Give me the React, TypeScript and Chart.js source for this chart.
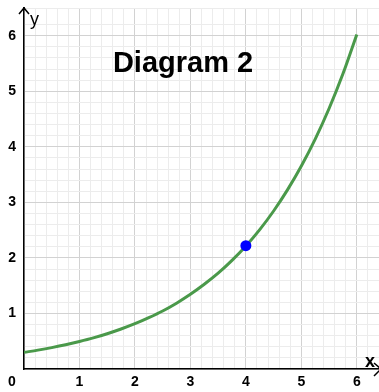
import React, { useEffect, useRef } from "react";
import { Chart, registerables } from "chart.js";

Chart.register(...registerables);

// Curve samples
const xValues = [0, 0.25, 0.5, 0.75, 1, 1.25, 1.5, 1.75, 2, 2.25, 2.5, 2.75, 3, 3.25, 3.5, 3.75, 4, 4.25, 4.5, 4.75, 5, 5.25, 5.5, 5.75, 6];
const yValues = [0.3, 0.34, 0.385, 0.436, 0.495, 0.56, 0.635, 0.72, 0.815, 0.925, 1.045, 1.185, 1.345, 1.525, 1.725, 1.955, 2.215, 2.51, 2.845, 3.225, 3.655, 4.14, 4.69, 5.315, 6.025];

// Highlighted point
const markX = [4];
const markY = [2.22];

const titleText = "Diagram 2";
const xAxisName = "x";
const yAxisName = "y";
const originLabel = "0";

const isInt = (v: number) => Math.abs(v - Math.round(v)) < 1e-6;

const overlay = {
  id: "overlay",
  afterDraw(chart: any) {
    const ctx = chart.ctx;
    const area = chart.chartArea;
    ctx.save();
    // title
    ctx.fillStyle = "#000";
    ctx.font = 'bold 29px "Liberation Sans", Arial, sans-serif';
    ctx.textAlign = "center";
    ctx.textBaseline = "alphabetic";
    ctx.fillText(titleText, 183, 72);

    // y arrow
    ctx.strokeStyle = "#000";
    ctx.lineWidth = 1.5;
    ctx.beginPath();
    ctx.moveTo(area.left, area.top + 2);
    ctx.lineTo(area.left, 7);
    ctx.stroke();
    ctx.beginPath();
    ctx.moveTo(area.left - 5, 14);
    ctx.lineTo(area.left, 8);
    ctx.lineTo(area.left + 5, 14);
    ctx.stroke();

    // x arrow
    ctx.beginPath();
    ctx.moveTo(374, area.bottom - 6);
    ctx.lineTo(381, area.bottom);
    ctx.lineTo(374, area.bottom + 7);
    ctx.stroke();

    // axis names
    ctx.font = '18px "Liberation Sans", Arial, sans-serif';
    ctx.textAlign = "left";
    ctx.fillText(yAxisName, 30, 25);
    ctx.font = 'bold 18px "Liberation Sans", Arial, sans-serif';
    ctx.fillText(xAxisName, 365, 367);

    // origin label
    ctx.font = 'bold 14px "Liberation Sans", Arial, sans-serif';
    ctx.textAlign = "center";
    ctx.textBaseline = "middle";
    ctx.fillText(originLabel, 12, 382);
    ctx.restore();
  },
};

export default function App() {
  const ref = useRef<HTMLCanvasElement>(null);
  useEffect(() => {
    if (!ref.current) return;
    const tickFont = { family: '"Liberation Sans", Arial, sans-serif', size: 14, weight: "bold" as const };
    const gridColor = (c: any) => (isInt(c.tick.value) ? "#d2d2d2" : "#ececec");
    const chart = new Chart(ref.current, {
      type: "scatter",
      data: {
        datasets: [
          {
            data: markX.map((x, i) => ({ x, y: markY[i] })),
            showLine: false,
            pointRadius: 5.5,
            pointBackgroundColor: "#0000ff",
            pointBorderWidth: 0,
            pointBorderColor: "#0000ff",
          },
          {
            data: xValues.map((x, i) => ({ x, y: yValues[i] })),
            showLine: true,
            borderColor: "#4a994a",
            borderWidth: 3,
            pointRadius: 0,
            cubicInterpolationMode: "monotone",
            fill: false,
          },
        ],
      },
      options: {
        animation: false,
        responsive: true,
        maintainAspectRatio: false,
        layout: { autoPadding: false, padding: { top: 8, right: 0, left: 0, bottom: 0 } },
        plugins: { legend: { display: false }, tooltip: { enabled: false }, title: { display: false } },
        scales: {
          x: {
            type: "linear",
            min: 0,
            max: 6.4,
            afterFit: (s: any) => {
              s.height = 23;
              s.paddingLeft = 0;
              s.paddingRight = 0;
            },
            ticks: {
              stepSize: 0.2,
              autoSkip: false,
              maxRotation: 0,
              padding: 0,
              color: "#000",
              font: { ...tickFont, lineHeight: "27px" },
              callback: (v: any) => (isInt(v) && Math.round(v) !== 0 ? String(Math.round(v)) : ""),
            },
            grid: { color: gridColor, drawTicks: false, lineWidth: 1 },
            border: { color: "#000", width: 1.5 },
          },
          y: {
            type: "linear",
            min: 0,
            max: 6.5,
            afterFit: (s: any) => {
              s.width = 24;
              s.paddingTop = 0;
              s.paddingBottom = 0;
            },
            ticks: {
              stepSize: 0.2,
              autoSkip: false,
              padding: 8,
              crossAlign: "center",
              color: "#000",
              font: tickFont,
              callback: (v: any) => (isInt(v) && Math.round(v) !== 0 ? String(Math.round(v)) : ""),
            },
            grid: { color: gridColor, drawTicks: false, lineWidth: 1 },
            border: { color: "#000", width: 1.5 },
          },
        },
      },
      plugins: [overlay],
    });
    return () => chart.destroy();
  }, []);
  return (
    <div style={{ position: "fixed", left: 0, top: 0, width: 379, height: 392, background: "#fff" }}>
      <canvas ref={ref} />
    </div>
  );
}
